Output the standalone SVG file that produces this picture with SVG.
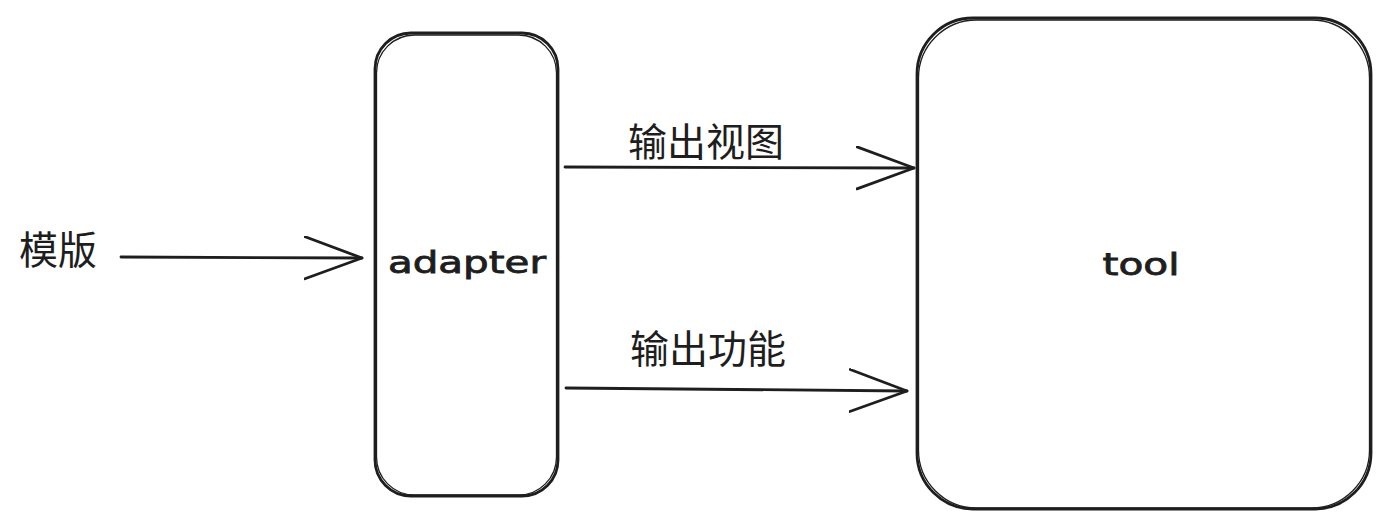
<svg xmlns="http://www.w3.org/2000/svg" width="1391" height="528" viewBox="0 0 1391 528">
  <style>
    .box { fill: #ffffff; stroke: #1e1e1e; stroke-width: 2.8; }
    .box2 { fill: none; stroke: #1e1e1e; stroke-width: 1.3; }
    .edge { fill: none; stroke: #1e1e1e; stroke-width: 2.8; stroke-linecap: round; }
    .cjk { font-family: "Noto Sans CJK SC", "Noto Sans", sans-serif; font-size: 39px; fill: #1e1e1e; }
    .hand { font-family: "DejaVu Sans", "Liberation Sans", sans-serif; font-size: 30px; fill: #1e1e1e; stroke: #1e1e1e; stroke-width: 0.8; }
  </style>
  <defs>
    <marker id="open" markerUnits="userSpaceOnUse" markerWidth="64" markerHeight="50" refX="58" refY="22" orient="auto">
      <path d="M1,1 L58,22 L1,43" fill="none" stroke="#1e1e1e" stroke-width="2.8" stroke-linecap="round" stroke-linejoin="round"/>
    </marker>
  </defs>
  <rect width="1391" height="528" fill="#ffffff"/>

  <g id="connectors">
    <path class="edge" d="M121 257 L362 258" marker-end="url(#open)"/>
    <path class="edge" d="M565 167 L914 168" marker-end="url(#open)"/>
    <path class="edge" d="M566 388 L907 391" marker-end="url(#open)"/>
  </g>

  <g id="template">
    <text class="cjk" x="19" y="264">模版</text>
  </g>

  <g id="adapter">
    <rect class="box" x="375" y="33" width="183" height="463" rx="36" ry="36"/>
    <rect class="box2" x="376.5" y="35" width="180" height="460" rx="38" ry="38"/>
    <text class="hand" x="467" y="273" text-anchor="middle" textLength="158" lengthAdjust="spacingAndGlyphs">adapter</text>
  </g>

  <g id="label-view">
    <text class="cjk" x="628" y="156">输出视图</text>
  </g>

  <g id="label-function">
    <text class="cjk" x="630" y="363">输出功能</text>
  </g>

  <g id="tool">
    <rect class="box" x="917" y="18" width="454" height="491" rx="56" ry="56"/>
    <rect class="box2" x="918.5" y="20" width="451" height="488" rx="58" ry="58"/>
    <text class="hand" x="1141" y="275" text-anchor="middle" textLength="77" lengthAdjust="spacingAndGlyphs">tool</text>
  </g>
</svg>
